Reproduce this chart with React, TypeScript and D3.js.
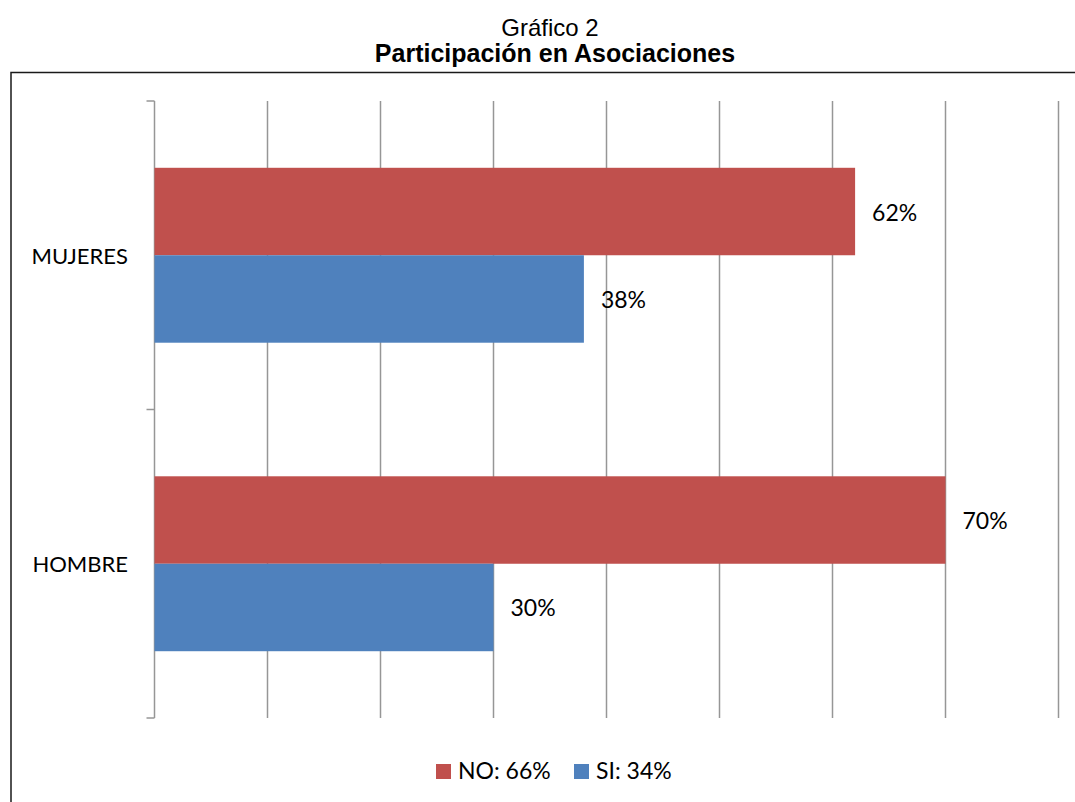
import * as d3 from 'd3';

// Chart data
const categories = ['MUJERES', 'HOMBRE'];
const seriesNames = ['NO', 'SI'];
const noValues = [62, 70];
const siValues = [38, 30];
const legendLabels = ['NO: 66%', 'SI: 34%'];
const gridTicks = [0, 10, 20, 30, 40, 50, 60, 70, 80];

const colors: Record<string, string> = { NO: '#C0504D', SI: '#4F81BD' };
const labelFont = 'Lato, Carlito, Calibri, sans-serif';
const titleFont = 'Arial, "Liberation Sans", sans-serif';

export default function App() {
  const width = 1075;
  const height = 802;
  const plot = { left: 154.5, right: 1058.5, top: 101, bottom: 718 };

  const x = d3.scaleLinear().domain([0, 80]).range([plot.left, plot.right]);
  const y = d3
    .scaleBand<string>()
    .domain(categories)
    .range([plot.top, plot.bottom])
    .paddingInner(0.433)
    .paddingOuter(0.2165);
  const ySub = d3.scaleBand<string>().domain(seriesNames).range([0, y.bandwidth()]);

  const valuesBySeries: Record<string, number[]> = { NO: noValues, SI: siValues };
  const step = y.step();
  const boundaries = d3.range(categories.length + 1).map(i => plot.top + i * step);

  return (
    <svg
      width={width}
      height={height}
      style={{ position: 'absolute', left: 0, top: 0, background: '#fff' }}
    >
      {/* title */}
      <text x={550} y={36} textAnchor="middle" fontFamily={titleFont} fontSize={24} fill="#000">
        Gráfico 2
      </text>
      <text x={555} y={62} textAnchor="middle" fontFamily={titleFont} fontSize={25} fontWeight="bold" fill="#000">
        Participación en Asociaciones
      </text>

      {/* chart border */}
      <rect x={11} y={72.5} width={1100} height={760} fill="none" stroke="#1a1a1a" strokeWidth={1.5} />

      {/* vertical gridlines */}
      {gridTicks.map(t => (
        <line key={t} x1={x(t)} x2={x(t)} y1={plot.top} y2={plot.bottom} stroke="#969696" strokeWidth={1.5} />
      ))}

      {/* category axis ticks */}
      {boundaries.map((b, i) => (
        <line key={i} x1={plot.left - 8} x2={plot.left} y1={b} y2={b} stroke="#969696" strokeWidth={1.5} />
      ))}

      {/* bars */}
      {categories.map((c, ci) =>
        seriesNames.map(s => {
          const v = valuesBySeries[s][ci];
          const by = (y(c) ?? 0) + (ySub(s) ?? 0);
          const bh = ySub.bandwidth();
          return (
            <g key={c + s}>
              <rect x={x(0)} y={by} width={x(v) - x(0)} height={bh} fill={colors[s]} />
              <text
                x={x(v) + 17}
                y={by + bh / 2}
                dominantBaseline="central"
                fontFamily={labelFont}
                fontSize={23}
                fill="#000"
              >
                {v}%
              </text>
            </g>
          );
        })
      )}

      {/* category labels */}
      {categories.map(c => (
        <text
          key={c}
          x={128}
          y={(y(c) ?? 0) + y.bandwidth() / 2}
          textAnchor="end"
          dominantBaseline="central"
          fontFamily={labelFont}
          fontSize={22}
          fill="#000"
        >
          {c}
        </text>
      ))}

      {/* legend */}
      {seriesNames.map((s, i) => {
        const lx = i === 0 ? 436 : 574;
        return (
          <g key={s}>
            <rect x={lx} y={764} width={15} height={15} fill={colors[s]} />
            <text x={lx + 22} y={779} fontFamily={labelFont} fontSize={23} fill="#000">
              {legendLabels[i]}
            </text>
          </g>
        );
      })}
    </svg>
  );
}
